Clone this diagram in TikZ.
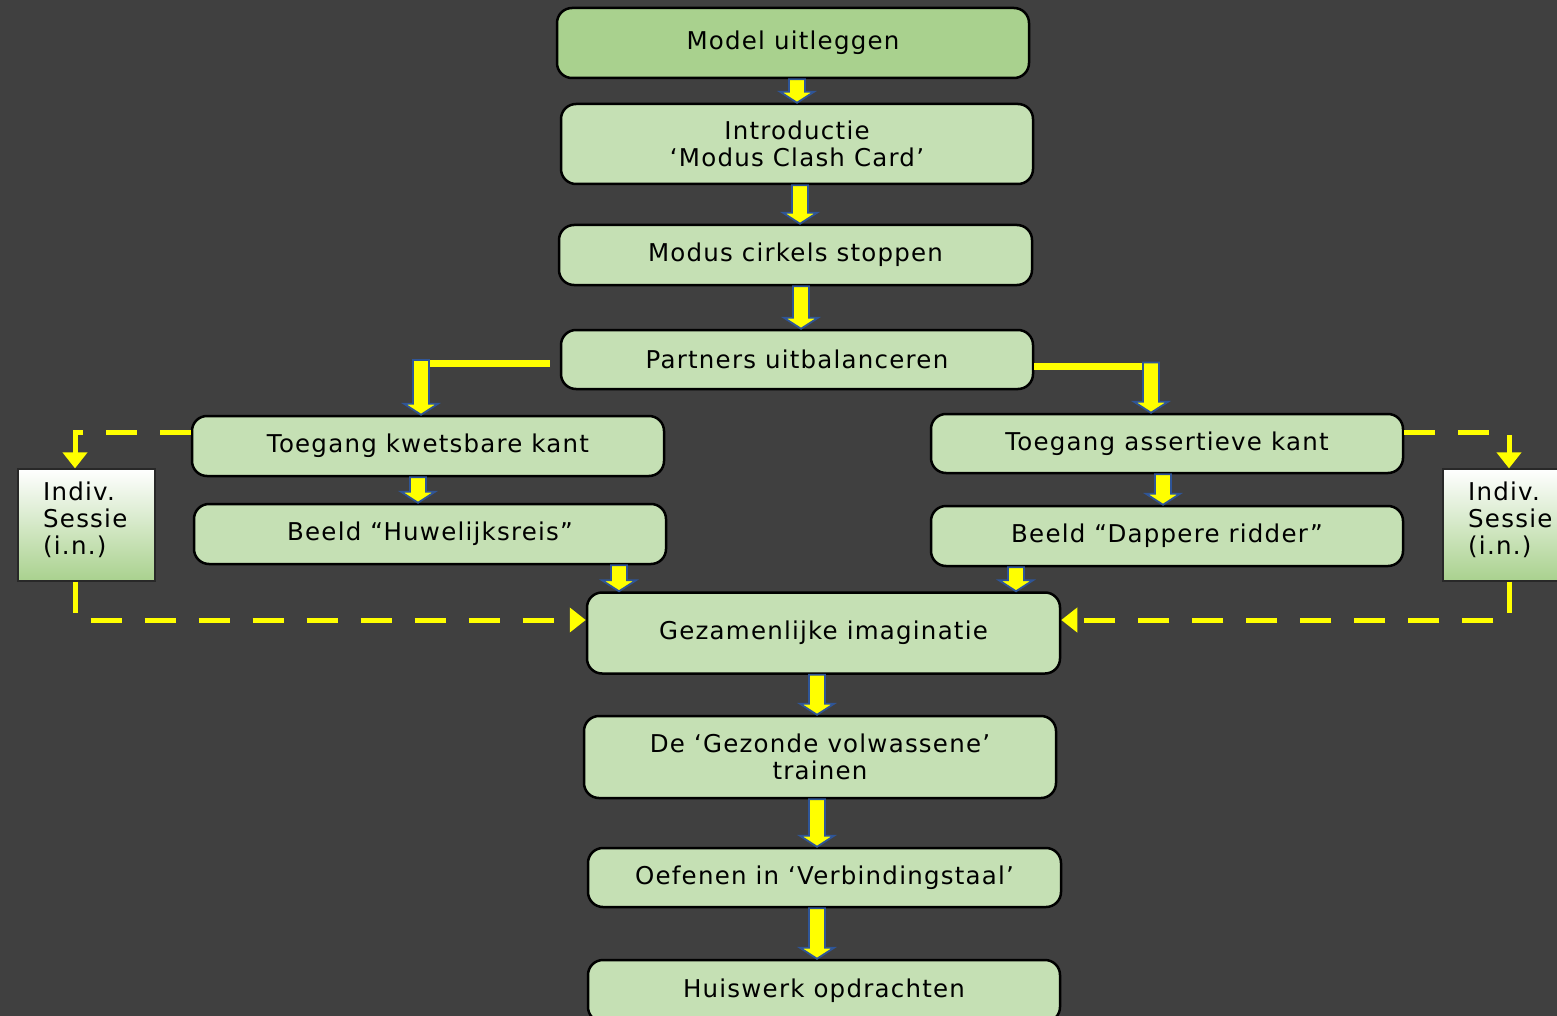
\documentclass[tikz,border=0pt]{standalone}
\usepackage{fontspec}
\setmainfont{DejaVu Sans}[LetterSpace=5]
\usetikzlibrary{arrows.meta,calc}
\definecolor{bg}{HTML}{404040}
\definecolor{gdark}{HTML}{A9D18E}
\definecolor{glight}{HTML}{C5E0B4}
\definecolor{ayel}{HTML}{FFFF00}
\definecolor{ablue}{HTML}{2F5597}
\definecolor{isborder}{HTML}{282828}
\tikzset{
 box/.style={draw=black, line width=2.5pt, rounded corners=15pt, fill=glight, minimum width=472pt, align=center, font=\fontsize{24.5}{27}\selectfont, inner sep=0pt},
 isbox/.style={draw=isborder, line width=1.2pt, top color=white, bottom color=gdark, minimum width=137pt, minimum height=112pt},
 istext/.style={align=left, font=\fontsize{24.5}{27}\selectfont, anchor=west, inner sep=0pt},
 barrow/.style={fill=ayel, draw=ablue, line width=1.8pt, line join=miter},
 yline/.style={draw=ayel, line width=7pt},
 dline/.style={draw=ayel, line width=5pt, dash pattern=on 31pt off 23pt, line join=miter},
 dhead/.style={-{Triangle[width=24pt,length=16pt]}},
}
\newcommand\blockarr[2]{\draw[barrow] let \p1=(#1), \p2=(#2) in (\x1-8,\y1) -- (\x1+8,\y1) -- (\x1+8,\y2+11) -- (\x1+17,\y2+11) -- (\x1,\y2) -- (\x1-17,\y2+11) -- (\x1-8,\y2+11) -- cycle;}
\begin{document}
\begin{tikzpicture}[x=1pt,y=-1pt]
\fill[bg] (0,0) rectangle (1557,1016);
\useasboundingbox (0,0) rectangle (1557,1016);

\node[box, fill=gdark, minimum height=70pt] (b1) at (793,43) {Model uitleggen};
\node[box, minimum height=80pt] (b2) at (797,144) {Introductie\\‘Modus Clash Card’};
\node[box, minimum width=473pt, minimum height=60pt] (b3) at (795.5,255) {Modus cirkels stoppen};
\node[box, minimum height=59pt] (b4) at (797,359.5) {Partners uitbalanceren};
\node[box, minimum height=60pt] (b5) at (428,446) {Toegang kwetsbare kant};
\node[box, minimum height=60pt] (b6) at (430,534) {Beeld “Huwelijksreis”};
\node[box, minimum height=59pt] (b7) at (1167,443.5) {Toegang assertieve kant};
\node[box, minimum height=60pt] (b8) at (1167,536) {Beeld “Dappere ridder”};
\node[box, minimum width=473pt, minimum height=81pt] (b9) at (823.5,633) {Gezamenlijke imaginatie};
\node[box, minimum height=82pt] (b10) at (820,757) {De ‘Gezonde volwassene’\\trainen};
\node[box, minimum width=473pt, minimum height=59pt] (b11) at (824.5,877.5) {Oefenen in ‘Verbindingstaal’};
\node[box, minimum height=62pt] (b12) at (824,991) {Huiswerk opdrachten};

\node[isbox] (is1) at (86.5,525) {};
\node[istext] (is1t) at (43,520) {Indiv.\\Sessie\\(i.n.)};
\node[isbox] (is2) at (1511.5,525) {};
\node[istext] (is2t) at (1468,520) {Indiv.\\Sessie\\(i.n.)};

\blockarr{[xshift=4pt]b1.south}{b2.north}
\blockarr{[xshift=3pt]b2.south}{b3.north}
\blockarr{[xshift=5.5pt]b3.south}{b4.north}
\blockarr{[xshift=-10pt]b5.south}{b6.north}
\blockarr{[xshift=189pt]b6.south}{b9.north}
\blockarr{[xshift=-4pt]b7.south}{b8.north}
\blockarr{[xshift=-151pt]b8.south}{b9.north}
\blockarr{[xshift=-6.5pt]b9.south}{b10.north}
\blockarr{[xshift=-3pt]b10.south}{b11.north}
\blockarr{[xshift=-7.5pt]b11.south}{b12.north}

\coordinate (cl) at (421,360);
\coordinate (sl) at ([xshift=-10pt,yshift=-3.5pt]b4.west);
\draw[yline] (sl) -- (sl -| cl);
\blockarr{cl}{b5.north}
\coordinate (cr) at (1151,362.5);
\coordinate (sr) at ([yshift=-6.5pt]b4.east);
\draw[yline] (sr) -- (sr -| cr);
\blockarr{cr}{b7.north}

\draw[dline, dhead] ([yshift=14pt]b5.west) -| ([xshift=-11.5pt]is1.north);
\draw[dline, dhead] ([xshift=-11.5pt]is1.south) |- ([yshift=13pt]b9.west);
\draw[dline, dhead] ([yshift=11.5pt]b7.east) -| ([xshift=-2.5pt]is2.north);
\draw[dline, dhead] ([xshift=-2.5pt]is2.south) |- ([yshift=13pt]b9.east);
\end{tikzpicture}
\end{document}
